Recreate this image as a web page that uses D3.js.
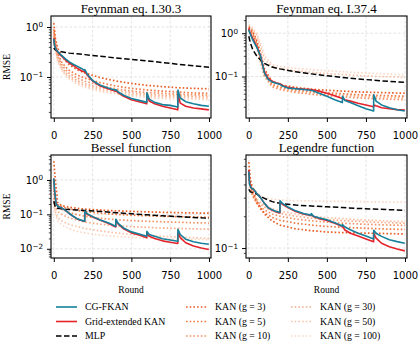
<!DOCTYPE html>
<html lang="en">
<head>
<meta charset="UTF-8">
<title>RMSE per round</title>
<script src="https://d3js.org/d3.v7.min.js"></script>
<style>
  body { margin: 0; background: #fff; }
  svg { display: block; }
  .title { font-family: "Liberation Serif", "Times New Roman", serif; font-size: 13px; }
  .lab { font-family: "Liberation Serif", "Times New Roman", serif; font-size: 9.5px; }
  .leg { font-family: "Liberation Serif", "Times New Roman", serif; font-size: 9.8px; }
  .tick text { font-family: "DejaVu Sans", sans-serif; font-size: 10px; fill: #000; }
</style>
</head>
<body>
<svg id="chart" width="420" height="345"></svg>
<script>
const roundsFine = [0, 5, 15, 30, 50, 75, 100, 125, 150, 175, 199, 200, 215, 250, 300, 350, 399, 400, 415, 450, 500, 550, 599, 600, 615, 650, 700, 750, 799, 800, 815, 850, 900, 950, 999];
const roundsCoarse = [0, 10, 25, 50, 75, 100, 150, 200, 300, 400, 500, 600, 700, 800, 900, 1000];
const titles = ["Feynman eq. I.30.3", "Feynman eq. I.37.4", "Bessel function", "Legendre function"];
const gridSizes = [3, 5, 10, 30, 50, 100];

// Feynman eq. I.30.3
const cgI303 = [0.58, 0.42, 0.35, 0.31, 0.27, 0.23, 0.2, 0.18, 0.165, 0.15, 0.135, 0.14, 0.115, 0.085, 0.068, 0.06, 0.054, 0.056, 0.05, 0.043, 0.037, 0.034, 0.031, 0.048, 0.036, 0.031, 0.028, 0.027, 0.025, 0.055, 0.038, 0.032, 0.029, 0.027, 0.026];
const gridI303 = [0.6, 0.43, 0.35, 0.3, 0.26, 0.22, 0.19, 0.17, 0.15, 0.135, 0.125, 0.13, 0.11, 0.083, 0.066, 0.058, 0.052, 0.053, 0.048, 0.041, 0.035, 0.032, 0.029, 0.045, 0.033, 0.029, 0.026, 0.024, 0.022, 0.045, 0.03, 0.026, 0.024, 0.023, 0.022];
const mlpI303 = [0.38, 0.35, 0.33, 0.32, 0.31, 0.3, 0.29, 0.28, 0.26, 0.24, 0.225, 0.21, 0.195, 0.18, 0.168, 0.156];
const kanI303 = [
  [1.2, 0.6, 0.38, 0.27, 0.21, 0.175, 0.14, 0.12, 0.097, 0.083, 0.074, 0.068, 0.064, 0.061, 0.059, 0.058],
  [0.9, 0.5, 0.3, 0.2, 0.16, 0.135, 0.11, 0.095, 0.077, 0.066, 0.059, 0.055, 0.052, 0.05, 0.048, 0.047],
  [0.8, 0.45, 0.27, 0.18, 0.14, 0.118, 0.096, 0.082, 0.067, 0.058, 0.052, 0.049, 0.047, 0.045, 0.044, 0.043],
  [0.7, 0.4, 0.24, 0.16, 0.124, 0.105, 0.085, 0.073, 0.06, 0.053, 0.048, 0.045, 0.043, 0.042, 0.041, 0.04],
  [0.65, 0.37, 0.22, 0.148, 0.115, 0.097, 0.078, 0.067, 0.055, 0.049, 0.044, 0.042, 0.04, 0.039, 0.038, 0.037],
  [0.6, 0.35, 0.2, 0.138, 0.106, 0.09, 0.072, 0.062, 0.051, 0.046, 0.041, 0.039, 0.037, 0.036, 0.0355, 0.035]
];

// Feynman eq. I.37.4
const cgI374 = [1.2, 1.05, 0.85, 0.65, 0.48, 0.3, 0.12, 0.085, 0.075, 0.07, 0.066, 0.066, 0.06, 0.054, 0.052, 0.05, 0.048, 0.048, 0.046, 0.041, 0.035, 0.029, 0.025, 0.035, 0.028, 0.025, 0.021, 0.018, 0.016, 0.038, 0.027, 0.022, 0.019, 0.017, 0.016];
const gridI374 = [1.3, 1.1, 0.9, 0.7, 0.5, 0.3, 0.13, 0.09, 0.078, 0.072, 0.068, 0.068, 0.062, 0.056, 0.053, 0.051, 0.05, 0.05, 0.049, 0.046, 0.041, 0.036, 0.031, 0.031, 0.029, 0.027, 0.024, 0.022, 0.02, 0.022, 0.021, 0.019, 0.018, 0.0172, 0.0167];
const mlpI374 = [0.85, 0.6, 0.42, 0.3, 0.24, 0.2, 0.165, 0.15, 0.128, 0.115, 0.104, 0.095, 0.088, 0.082, 0.077, 0.073];
const kanI374 = [
  [1.4, 1.3, 1.1, 0.7, 0.35, 0.15, 0.075, 0.065, 0.056, 0.051, 0.048, 0.046, 0.044, 0.043, 0.042, 0.041],
  [1.3, 1.2, 1.0, 0.6, 0.28, 0.12, 0.066, 0.057, 0.049, 0.045, 0.042, 0.04, 0.038, 0.037, 0.036, 0.035],
  [1.2, 1.1, 0.9, 0.5, 0.22, 0.1, 0.058, 0.05, 0.043, 0.039, 0.036, 0.034, 0.032, 0.031, 0.03, 0.029],
  [1.25, 1.15, 0.95, 0.55, 0.25, 0.11, 0.062, 0.054, 0.046, 0.042, 0.039, 0.037, 0.035, 0.034, 0.033, 0.032],
  [1.5, 1.4, 1.2, 0.9, 0.5, 0.25, 0.17, 0.15, 0.135, 0.125, 0.117, 0.111, 0.106, 0.101, 0.098, 0.095],
  [1.6, 1.5, 1.35, 1.0, 0.6, 0.3, 0.19, 0.17, 0.155, 0.145, 0.136, 0.129, 0.123, 0.118, 0.114, 0.11]
];

// Bessel function
const cgBessel = [1.1, 0.5, 0.2, 0.165, 0.155, 0.13, 0.106, 0.088, 0.075, 0.068, 0.063, 0.125, 0.105, 0.086, 0.069, 0.057, 0.045, 0.072, 0.055, 0.04, 0.031, 0.027, 0.023, 0.032, 0.026, 0.023, 0.0195, 0.018, 0.0165, 0.037, 0.026, 0.019, 0.016, 0.0145, 0.0135];
const gridBessel = [1.1, 0.5, 0.2, 0.165, 0.155, 0.13, 0.105, 0.087, 0.074, 0.067, 0.062, 0.12, 0.1, 0.084, 0.067, 0.055, 0.043, 0.068, 0.052, 0.038, 0.029, 0.025, 0.021, 0.029, 0.023, 0.02, 0.017, 0.0155, 0.0143, 0.032, 0.021, 0.015, 0.012, 0.0105, 0.0095];
const mlpBessel = [0.24, 0.16, 0.15, 0.145, 0.14, 0.138, 0.134, 0.13, 0.122, 0.112, 0.104, 0.097, 0.091, 0.086, 0.081, 0.077];
const kanBessel = [
  [3.5, 1.0, 0.22, 0.18, 0.17, 0.16, 0.15, 0.142, 0.133, 0.127, 0.122, 0.118, 0.115, 0.112, 0.11, 0.108],
  [0.5, 0.25, 0.19, 0.17, 0.155, 0.145, 0.13, 0.12, 0.108, 0.1, 0.095, 0.091, 0.088, 0.086, 0.084, 0.082],
  [0.4, 0.22, 0.16, 0.14, 0.125, 0.113, 0.098, 0.088, 0.077, 0.07, 0.066, 0.063, 0.061, 0.059, 0.057, 0.056],
  [0.3, 0.16, 0.12, 0.1, 0.088, 0.079, 0.068, 0.06, 0.052, 0.047, 0.044, 0.042, 0.04, 0.039, 0.038, 0.037],
  [0.25, 0.12, 0.08, 0.065, 0.057, 0.051, 0.044, 0.039, 0.033, 0.029, 0.026, 0.024, 0.023, 0.022, 0.021, 0.02],
  [0.22, 0.1, 0.065, 0.05, 0.043, 0.038, 0.032, 0.029, 0.025, 0.023, 0.0215, 0.0205, 0.0198, 0.0192, 0.0188, 0.0185]
];

// Legendre function
const cgLegendre = [0.53, 0.4, 0.37, 0.36, 0.33, 0.3, 0.265, 0.24, 0.23, 0.222, 0.218, 0.28, 0.265, 0.245, 0.225, 0.212, 0.205, 0.212, 0.2, 0.193, 0.185, 0.174, 0.162, 0.167, 0.158, 0.149, 0.138, 0.13, 0.122, 0.147, 0.138, 0.129, 0.12, 0.115, 0.111];
const gridLegendre = [0.55, 0.41, 0.37, 0.36, 0.33, 0.3, 0.265, 0.24, 0.228, 0.22, 0.215, 0.275, 0.26, 0.242, 0.222, 0.21, 0.203, 0.208, 0.198, 0.19, 0.182, 0.172, 0.16, 0.162, 0.148, 0.138, 0.13, 0.122, 0.115, 0.138, 0.124, 0.111, 0.103, 0.098, 0.094];
const mlpLegendre = [0.36, 0.34, 0.335, 0.325, 0.31, 0.295, 0.275, 0.265, 0.255, 0.25, 0.246, 0.242, 0.237, 0.234, 0.231, 0.228];
const kanLegendre = [
  [0.65, 0.45, 0.35, 0.28, 0.24, 0.21, 0.18, 0.165, 0.152, 0.146, 0.142, 0.14, 0.139, 0.138, 0.137, 0.136],
  [0.5, 0.4, 0.32, 0.265, 0.235, 0.215, 0.195, 0.183, 0.172, 0.165, 0.16, 0.157, 0.155, 0.153, 0.151, 0.15],
  [0.45, 0.38, 0.31, 0.27, 0.245, 0.23, 0.21, 0.2, 0.188, 0.181, 0.176, 0.172, 0.169, 0.167, 0.165, 0.164],
  [0.45, 0.38, 0.32, 0.28, 0.26, 0.245, 0.225, 0.213, 0.2, 0.192, 0.186, 0.182, 0.179, 0.176, 0.174, 0.172],
  [0.45, 0.38, 0.33, 0.29, 0.27, 0.255, 0.235, 0.224, 0.21, 0.2, 0.194, 0.19, 0.186, 0.183, 0.18, 0.178],
  [0.55, 0.45, 0.38, 0.33, 0.31, 0.3, 0.29, 0.285, 0.281, 0.279, 0.277, 0.276, 0.275, 0.274, 0.273, 0.272]
];

const tealColor = "#17819b";
const redColor = "#e5232b";
const kanColors = ["#e85c26", "#ef7a45", "#f39466", "#f6ae8a", "#f8c3a8", "#fbd8c6"];

const panels = [
  { title: titles[0], x0: 51, x1: 211, y0: 16, y1: 118, yDom: [0.0151, 1.66], cg: cgI303, grid: gridI303, mlp: mlpI303, kan: kanI303, left: true, bottom: false },
  { title: titles[1], x0: 246, x1: 407, y0: 16, y1: 118, yDom: [0.011, 2.5], cg: cgI374, grid: gridI374, mlp: mlpI374, kan: kanI374, left: false, bottom: false },
  { title: titles[2], x0: 51, x1: 211, y0: 155, y1: 258, yDom: [0.0054, 5.3], cg: cgBessel, grid: gridBessel, mlp: mlpBessel, kan: kanBessel, left: true, bottom: true },
  { title: titles[3], x0: 246, x1: 407, y0: 155, y1: 258, yDom: [0.0805, 0.76], cg: cgLegendre, grid: gridLegendre, mlp: mlpLegendre, kan: kanLegendre, left: false, bottom: true }
];

const svg = d3.select("#chart");

panels.forEach((p, i) => drawPanel(p, i));
drawLegend();

function drawPanel(p, i) {
  const x = d3.scaleLinear().domain([-18, 1013]).range([p.x0, p.x1]);
  const y = d3.scaleLog().domain(p.yDom).range([p.y1, p.y0]);

  const lo = Math.floor(Math.log10(p.yDom[0]));
  const hi = Math.ceil(Math.log10(p.yDom[1]));
  const majors = [];
  const minors = [];
  for (let e = lo; e <= hi; e++) {
    const b = Math.pow(10, e);
    if (b >= p.yDom[0] && b <= p.yDom[1]) majors.push(b);
    for (let k = 2; k <= 9; k++) {
      const v = k * b;
      if (v >= p.yDom[0] && v <= p.yDom[1]) minors.push(v);
    }
  }
  const xticks = [0, 250, 500, 750, 1000];

  // grid
  const grid = svg.append("g").attr("stroke", "#dddddd").attr("stroke-width", 0.8).attr("stroke-dasharray", "2.8,1.8");
  xticks.forEach(t => grid.append("line").attr("x1", x(t)).attr("x2", x(t)).attr("y1", p.y0).attr("y2", p.y1));
  majors.forEach(t => grid.append("line").attr("x1", p.x0).attr("x2", p.x1).attr("y1", y(t)).attr("y2", y(t)));

  const clipId = "clip" + i;
  svg.append("clipPath").attr("id", clipId).append("rect")
    .attr("x", p.x0).attr("y", p.y0).attr("width", p.x1 - p.x0).attr("height", p.y1 - p.y0);

  const g = svg.append("g").attr("clip-path", `url(#${clipId})`);
  const lineC = d3.line().x((d, j) => x(roundsCoarse[j])).y(d => y(d));
  const lineF = d3.line().x((d, j) => x(roundsFine[j])).y(d => y(d));

  // KAN baselines, lightest first
  for (let k = p.kan.length - 1; k >= 0; k--) {
    g.append("path").attr("d", lineC(p.kan[k]))
      .attr("fill", "none").attr("stroke", kanColors[k])
      .attr("stroke-width", 1.7).attr("stroke-dasharray", "1.6,2.1");
  }
  g.append("path").attr("d", lineC(p.mlp))
    .attr("fill", "none").attr("stroke", "#000").attr("stroke-width", 1.5)
    .attr("stroke-dasharray", "5.5,2.5");
  g.append("path").attr("d", lineF(p.grid))
    .attr("fill", "none").attr("stroke", redColor).attr("stroke-width", 1.6).attr("stroke-linejoin", "round");
  g.append("path").attr("d", lineF(p.cg))
    .attr("fill", "none").attr("stroke", tealColor).attr("stroke-width", 1.6).attr("stroke-linejoin", "round");

  // axes
  const ax = svg.append("g").attr("transform", `translate(0,${p.y1})`)
    .call(d3.axisBottom(x).tickValues(xticks).tickFormat(d3.format("d")).tickSize(4).tickPadding(10).tickSizeOuter(0));
  ax.select(".domain").remove();

  const ayMinor = svg.append("g").attr("transform", `translate(${p.x0},0)`)
    .call(d3.axisLeft(y).tickValues(minors).tickSize(2.2).tickFormat(""));
  ayMinor.select(".domain").remove();
  ayMinor.selectAll("line").attr("stroke-width", 0.7);

  const ay = svg.append("g").attr("transform", `translate(${p.x0},0)`)
    .call(d3.axisLeft(y).tickValues(majors).tickSize(4).tickPadding(4));
  ay.select(".domain").remove();
  ay.selectAll("text").each(function(d) {
    const t = d3.select(this);
    const e = Math.round(Math.log10(d));
    t.text(null);
    t.append("tspan").text("10");
    t.append("tspan").attr("dy", "-0.45em").attr("font-size", "7.2px").text(e < 0 ? "\u2212" + (-e) : String(e));
  });

  // frame
  svg.append("rect").attr("x", p.x0).attr("y", p.y0)
    .attr("width", p.x1 - p.x0).attr("height", p.y1 - p.y0)
    .attr("fill", "none").attr("stroke", "#000").attr("stroke-width", 1.1);

  svg.append("text").attr("class", "title")
    .attr("x", (p.x0 + p.x1) / 2).attr("y", p.y0 - 3)
    .attr("text-anchor", "middle").text(p.title);

  if (p.left) {
    svg.append("text").attr("class", "lab")
      .attr("transform", `translate(10,${(p.y0 + p.y1) / 2}) rotate(-90)`)
      .attr("text-anchor", "middle").text("RMSE");
  }
  if (p.bottom) {
    svg.append("text").attr("class", "lab")
      .attr("x", (p.x0 + p.x1) / 2).attr("y", p.y1 + 35)
      .attr("text-anchor", "middle").text("Round");
  }
}

function drawLegend() {
  const items = [
    { label: "CG-FKAN", color: tealColor, dash: null, col: 0, row: 0 },
    { label: "Grid-extended KAN", color: redColor, dash: null, col: 0, row: 1 },
    { label: "MLP", color: "#000", dash: "5.5,2.5", col: 0, row: 2 }
  ];
  gridSizes.forEach((gs, k) => {
    items.push({ label: `KAN (g = ${gs})`, color: kanColors[k], dash: "1.6,2.1", col: 1 + Math.floor(k / 3), row: k % 3 });
  });
  const colX = [56, 186, 291];
  const rowY = [307, 321.5, 336];
  const leg = svg.append("g");
  items.forEach(it => {
    const lx = colX[it.col];
    const ly = rowY[it.row];
    leg.append("line").attr("x1", lx).attr("x2", lx + 21).attr("y1", ly).attr("y2", ly)
      .attr("stroke", it.color).attr("stroke-width", it.dash === "1.6,2.1" ? 1.7 : 1.6)
      .attr("stroke-dasharray", it.dash);
    leg.append("text").attr("class", "leg").attr("x", lx + 29).attr("y", ly + 3.4).text(it.label);
  });
}
</script>
</body>
</html>
